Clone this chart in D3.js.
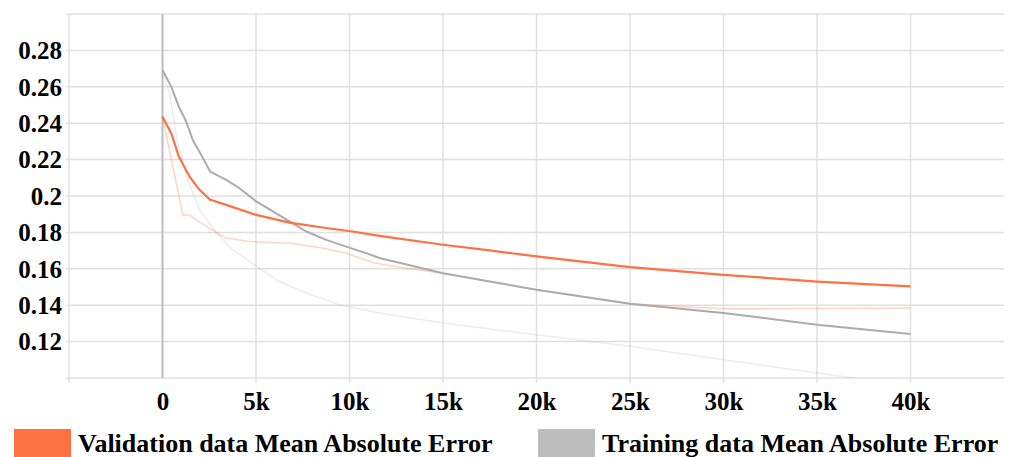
<!DOCTYPE html>
<html>
<head>
<meta charset="utf-8">
<script src="https://cdn.jsdelivr.net/npm/d3@7"></script>
<style>
  html, body { margin: 0; padding: 0; background: #fff; }
  svg { display: block; }
  text { font-family: "Liberation Serif", "Times New Roman", serif; font-weight: bold; fill: #000; }
</style>
</head>
<body>
<svg id="chart" width="1013" height="457"></svg>
<script>
// ---- data ----
const xTicks = [0, 5000, 10000, 15000, 20000, 25000, 30000, 35000, 40000];
const xTickLabels = ["0", "5k", "10k", "15k", "20k", "25k", "30k", "35k", "40k"];
const yTicks = [0.12, 0.14, 0.16, 0.18, 0.2, 0.22, 0.24, 0.26, 0.28];
const yTickLabels = ["0.12", "0.14", "0.16", "0.18", "0.2", "0.22", "0.24", "0.26", "0.28"];

// Validation MAE (smoothed, bold)
const valSteps = [0, 465, 872, 1444, 1979, 2551, 3406, 5011, 6791, 8556, 10160, 11604, 15000, 17500, 20000, 25000, 30000, 35000, 40000];
const valMAE   = [0.2436, 0.2345, 0.2217, 0.2107, 0.2034, 0.1979, 0.1951, 0.1896, 0.1854, 0.1827, 0.1805, 0.1781, 0.1732, 0.1701, 0.1668, 0.1609, 0.1567, 0.1530, 0.1503];

// Training MAE (smoothed, bold)
const trainSteps = [0, 465, 872, 1266, 1620, 2068, 2551, 3406, 4118, 5011, 5900, 6791, 7684, 8754, 9824, 10894, 11604, 15000, 17500, 20000, 25000, 30000, 35000, 40000];
const trainMAE   = [0.2693, 0.2601, 0.2491, 0.2409, 0.2308, 0.2226, 0.2134, 0.2089, 0.2043, 0.1970, 0.1915, 0.1860, 0.1805, 0.1759, 0.1722, 0.1686, 0.1659, 0.1576, 0.1530, 0.1485, 0.1408, 0.1357, 0.1293, 0.1242];

// Validation MAE (raw, faint)
const valRawSteps = [0, 1086, 1444, 2300, 3406, 4652, 6791, 8556, 9824, 11246, 12139, 15000, 20000, 25000, 27000, 30000, 35000, 40000];
const valRawMAE   = [0.2436, 0.1896, 0.1896, 0.1835, 0.1769, 0.1750, 0.1741, 0.1714, 0.1686, 0.1635, 0.1617, 0.1576, 0.1485, 0.1408, 0.1397, 0.1380, 0.1382, 0.1384];

// Training MAE (raw, faint)
const trainRawSteps = [0, 374, 802, 1283, 1979, 2888, 3743, 5011, 6257, 7684, 9465, 11604, 15000, 20000, 25000, 30000, 35000, 40000];
const trainRawMAE   = [0.2693, 0.2566, 0.2292, 0.2105, 0.1924, 0.1798, 0.1704, 0.1615, 0.1530, 0.1467, 0.1402, 0.1357, 0.1302, 0.1238, 0.1174, 0.1100, 0.1027, 0.0960];

const legendLabels = ["Validation data Mean Absolute Error", "Training data Mean Absolute Error"];
const seriesColors = ["#ff7043", "#bdbdbd"];

// ---- layout ----
const svg = d3.select("#chart");
const mLeft = 69, mRight = 1004, mTop = 14, mBottom = 378;

const x = d3.scaleLinear().domain([-5000, 45000]).range([mLeft, mRight]);
const y = d3.scaleLinear().domain([0.10, 0.30]).range([mBottom, mTop]);

// grid
const gridX = d3.range(-5000, 45000, 5000);
const gridY = d3.range(0, 11).map(i => 0.10 + i * 0.02);

svg.append("g").selectAll("line").data(gridY).join("line")
  .attr("x1", mLeft - 3).attr("x2", mRight)
  .attr("y1", d => y(d)).attr("y2", d => y(d))
  .attr("stroke", "#e0e0e0").attr("stroke-width", 1.5);

svg.append("g").selectAll("line").data(gridX.filter(d => d !== 0)).join("line")
  .attr("x1", d => x(d)).attr("x2", d => x(d))
  .attr("y1", mTop).attr("y2", mBottom + 5)
  .attr("stroke", "#e0e0e0").attr("stroke-width", 1.5);

// zero line
svg.append("line")
  .attr("x1", x(0)).attr("x2", x(0))
  .attr("y1", mTop).attr("y2", mBottom)
  .attr("stroke", "#bcbcbc").attr("stroke-width", 2);

// y axis labels
const yAxis = d3.axisLeft(y).tickValues(yTicks).tickSize(0).tickPadding(0)
  .tickFormat((d, i) => yTickLabels[i]);
const gy = svg.append("g").attr("transform", `translate(${mLeft - 7},0)`).call(yAxis);
gy.select(".domain").remove();
gy.attr("font-family", null).attr("font-size", null);
gy.selectAll("text").attr("font-size", 25).attr("dy", "0.33em");

// x axis labels
const xAxis = d3.axisBottom(x).tickValues(xTicks).tickSize(0).tickPadding(0)
  .tickFormat((d, i) => xTickLabels[i]);
const gx = svg.append("g").attr("transform", `translate(0,${mBottom})`).call(xAxis);
gx.select(".domain").remove();
gx.attr("font-family", null).attr("font-size", null);
gx.selectAll("text").attr("font-size", 25).attr("dy", null).attr("y", 32);

// clip
svg.append("clipPath").attr("id", "clip").append("rect")
  .attr("x", mLeft).attr("y", mTop).attr("width", mRight - mLeft).attr("height", mBottom - mTop);

const line = d3.line().x(d => x(d[0])).y(d => y(d[1]));
const plot = svg.append("g").attr("clip-path", "url(#clip)");

function draw(steps, vals, color, width, opacity) {
  plot.append("path")
    .datum(steps.map((s, i) => [s, vals[i]]))
    .attr("d", line)
    .attr("fill", "none")
    .attr("stroke", color)
    .attr("stroke-width", width)
    .attr("stroke-opacity", opacity)
    .attr("stroke-linejoin", "round");
}

draw(trainRawSteps, trainRawMAE, "#9e9e9e", 1.5, 0.2);
draw(valRawSteps, valRawMAE, "#ff7043", 1.5, 0.3);
draw(trainSteps, trainMAE, "#ababab", 2, 1);
draw(valSteps, valMAE, "#ff7043", 2.2, 1);

// legend
const legendX = [14, 538];
const lg = svg.append("g");
legendLabels.forEach((lab, i) => {
  lg.append("rect").attr("x", legendX[i]).attr("y", 429).attr("width", 57).attr("height", 34)
    .attr("fill", seriesColors[i]);
  lg.append("text").attr("x", legendX[i] + 64).attr("y", 452)
    .attr("font-size", 26).text(lab);
});
</script>
</body>
</html>
